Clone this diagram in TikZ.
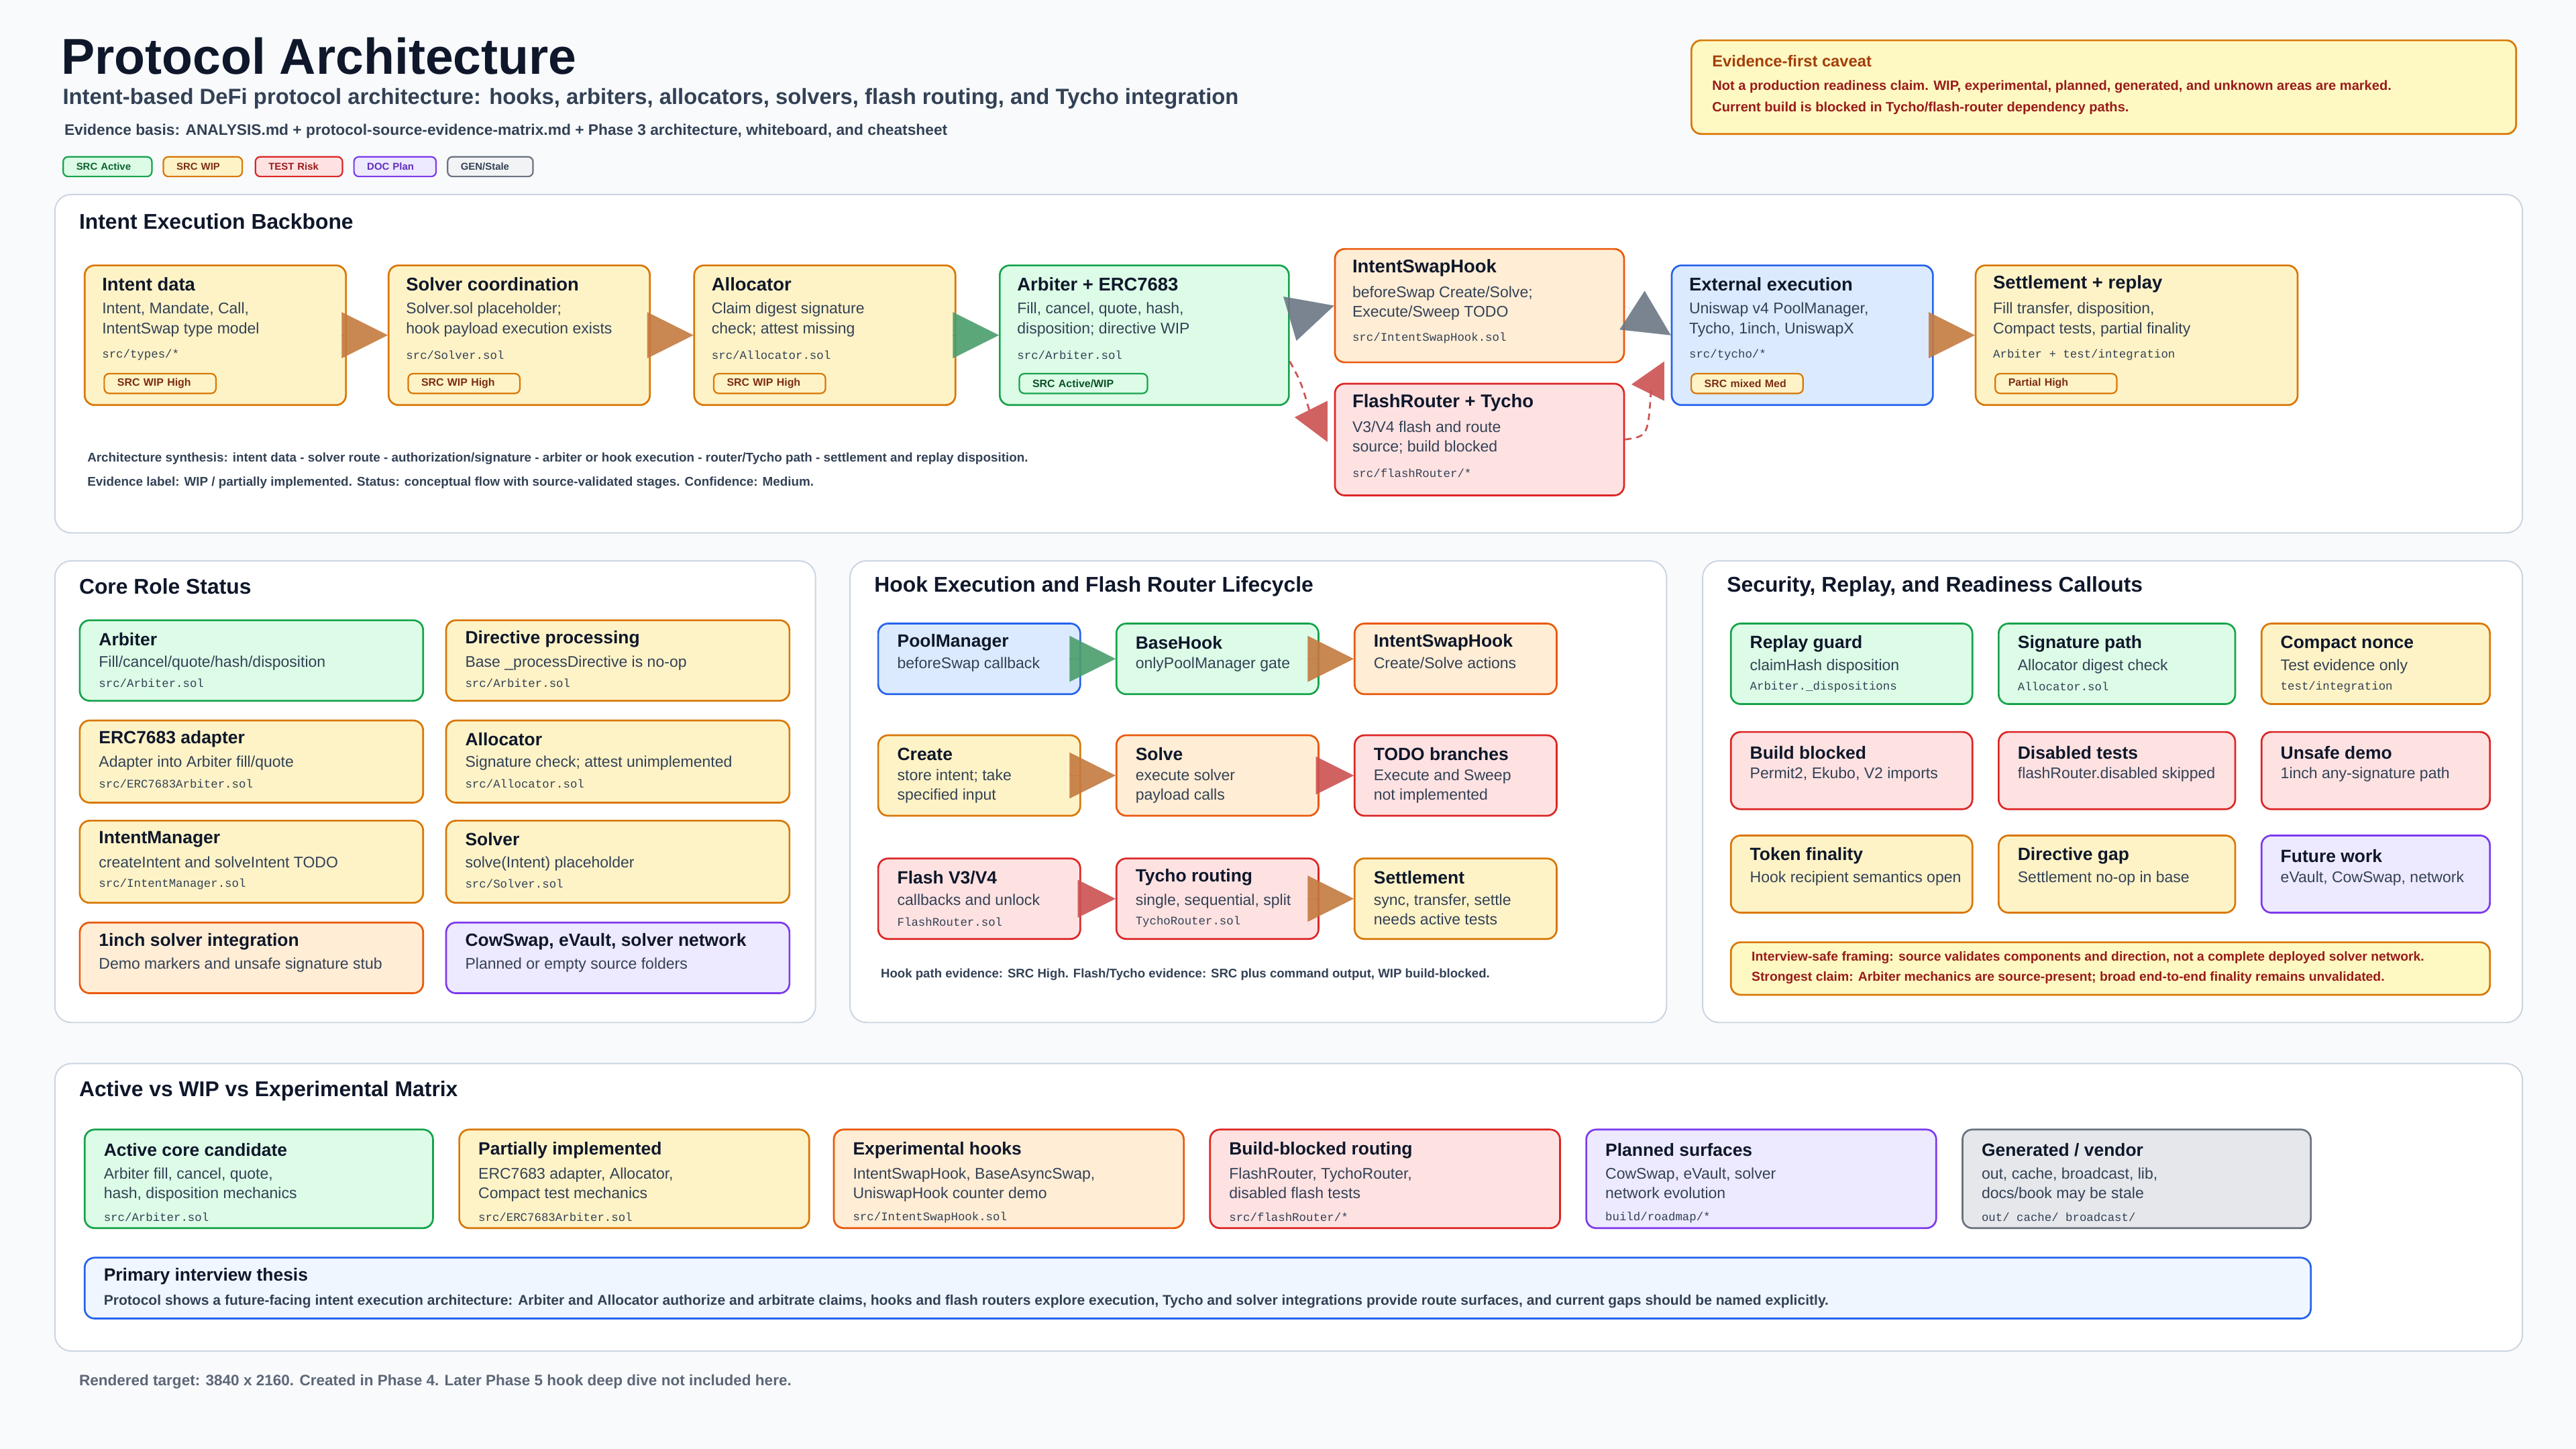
\documentclass[tikz,border=0pt]{standalone}
\usepackage{fontspec}
\setmainfont{Liberation Sans}
\setmonofont{Liberation Mono}
\usetikzlibrary{calc,arrows.meta}
\definecolor{bg}{HTML}{F8FAFC}
\definecolor{pbord}{HTML}{CBD5E1}
\definecolor{ink}{HTML}{0F172A}
\definecolor{txt}{HTML}{334155}
\definecolor{gfill}{HTML}{DCFCE7}\definecolor{gline}{HTML}{16A34A}
\definecolor{yfill}{HTML}{FEF3C7}\definecolor{yline}{HTML}{D97706}
\definecolor{ofill}{HTML}{FFEDD5}\definecolor{oline}{HTML}{EA580C}
\definecolor{rfill}{HTML}{FEE2E2}\definecolor{rline}{HTML}{DC2626}
\definecolor{bfill}{HTML}{DBEAFE}\definecolor{bline}{HTML}{2563EB}
\definecolor{pfill}{HTML}{EDE9FE}\definecolor{pline}{HTML}{7C3AED}
\definecolor{kfill}{HTML}{E5E7EB}\definecolor{kline}{HTML}{6B7280}
\definecolor{lfill}{HTML}{EFF6FF}
\definecolor{cfill}{HTML}{FEF9C3}
\definecolor{dred}{HTML}{991B1B}
\definecolor{brown}{HTML}{7C2D12}
\definecolor{aor}{HTML}{C47A3F}\definecolor{agr}{HTML}{4A9E6C}
\definecolor{agy}{HTML}{6B7785}\definecolor{ard}{HTML}{CD5252}
\tikzset{
 card/.style={draw, rounded corners=6pt, line width=1.1pt, inner sep=0pt},
 G/.style={fill=gfill,draw=gline}, Y/.style={fill=yfill,draw=yline},
 O/.style={fill=ofill,draw=oline}, R/.style={fill=rfill,draw=rline},
 B/.style={fill=bfill,draw=bline}, P/.style={fill=pfill,draw=pline},
 K/.style={fill=kfill,draw=kline},
 panel/.style={fill=white, draw=pbord, line width=0.8pt, rounded corners=10pt},
 ptitle/.style={anchor=west, inner sep=0pt, text=ink, font=\fontsize{13}{15}\selectfont\bfseries},
 ttl/.style={inner sep=0pt, text=ink, font=\fontsize{10.8}{12}\selectfont\bfseries},
 dsc/.style={inner sep=0pt, text=txt, align=left, font=\fontsize{9.4}{12}\selectfont},
 mno/.style={inner sep=0pt, text=txt, font=\fontsize{7.1}{8}\selectfont\ttfamily},
 chip/.style={draw, rounded corners=3pt, line width=0.9pt, inner sep=0pt, anchor=north west,
   minimum height=12pt, text=brown, font=\fontsize{6.3}{7}\selectfont\bfseries, align=left},
 note/.style={inner sep=0pt, anchor=west, text=txt, font=\fontsize{7.7}{9}\selectfont\bfseries},
 flow/.style={draw=#1, line width=0.01pt, opacity=0.9, -{Triangle[length=28pt,width=28pt,fill=#1]}},
 flows/.style={draw=#1, line width=0.01pt, opacity=0.9, -{Triangle[length=23pt,width=23pt,fill=#1]}},
 rdash/.style={draw=ard, line width=1.1pt, dash pattern=on 4pt off 3pt},
}
\def\tY{12}\def\dY{23}\def\mY{55}\def\px{11}
\newcommand\card[8]{%
 \node[card,#2,minimum width=#5pt,minimum height=#6pt,anchor=north west] (#1) at (#3,#4) {};
 \node[ttl,anchor=west] (#1-t) at ($(#1.north west)+(\px,\tY)$) {#7};
 \node[dsc,anchor=north west] (#1-d) at ($(#1.north west)+(\px,\dY)$) {#8};}
\newcommand\mono[2]{\node[mno,anchor=west] (#1-m) at ($(#1.north west)+(\px,\mY)$) {#2};}
\newcommand\bchip[3]{\node[chip,#2,minimum width=68pt,text width=60pt] (#1-c) at ($(#1.north west)+(12,66)$) {\hspace*{4pt}#3};}
\begin{document}
\begin{tikzpicture}[x=1pt,y=-1pt]
\path[fill=bg] (0,0) rectangle (1568,882);
% header
\node[inner sep=0pt,anchor=west,text=ink,font=\fontsize{30.7}{34}\selectfont\bfseries] (title) at (37,34) {Protocol Architecture};
\node[inner sep=0pt,anchor=west,text=txt,font=\fontsize{13.4}{15}\selectfont\bfseries] (sub) at (38,60) {Intent-based DeFi protocol architecture: hooks, arbiters, allocators, solvers, flash routing, and Tycho integration};
\node[inner sep=0pt,anchor=west,text=txt,font=\fontsize{9.3}{11}\selectfont\bfseries] (basis) at (39,80) {Evidence basis: ANALYSIS.md + protocol-source-evidence-matrix.md + Phase 3 architecture, whiteboard, and cheatsheet};
\tikzset{chip/.append style={font=\fontsize{6.1}{7}\selectfont\bfseries}}
\node[chip,G,text=gline!60!black,minimum width=54pt,text width=50pt] (lg1) at (38,95) {\hspace*{6pt}SRC Active};
\node[chip,Y,text=brown,minimum width=48pt,text width=44pt] (lg2) at (99,95) {\hspace*{6pt}SRC WIP};
\node[chip,R,text=rline!70!black,minimum width=53pt,text width=49pt] (lg3) at (155,95) {\hspace*{6pt}TEST Risk};
\node[chip,P,text=pline!80!black,minimum width=50pt,text width=46pt] (lg4) at (215,95) {\hspace*{6pt}DOC Plan};
\node[chip,fill=kfill!50,draw=kline,text=txt,minimum width=52pt,text width=48pt] (lg5) at (272,95) {\hspace*{6pt}GEN/Stale};
\tikzset{chip/.append style={font=\fontsize{6.5}{7}\selectfont\bfseries}}
% caveat
\node[card,fill=cfill,draw=yline,minimum width=502pt,minimum height=57pt,anchor=north west] (cav) at (1029,24) {};
\node[inner sep=0pt,anchor=west,text=oline!70!black,font=\fontsize{9.7}{11}\selectfont\bfseries] (cav-t) at (1042,37) {Evidence-first caveat};
\node[inner sep=0pt,anchor=west,text=dred,font=\fontsize{8.2}{10}\selectfont\bfseries] (cav-1) at (1042,53) {Not a production readiness claim. WIP, experimental, planned, generated, and unknown areas are marked.};
\node[inner sep=0pt,anchor=west,text=dred,font=\fontsize{8.2}{10}\selectfont\bfseries] (cav-2) at (1042,66) {Current build is blocked in Tycho/flash-router dependency paths.};
% panels
\node[panel,minimum width=1502pt,minimum height=206pt,anchor=north west] (p1) at (33,118) {};
\node[panel,minimum width=463pt,minimum height=281pt,anchor=north west] (p2) at (33,341) {};
\node[panel,minimum width=497pt,minimum height=281pt,anchor=north west] (p3) at (517,341) {};
\node[panel,minimum width=499pt,minimum height=281pt,anchor=north west] (p4) at (1036,341) {};
\node[panel,minimum width=1502pt,minimum height=175pt,anchor=north west] (p5) at (33,647) {};
\node[ptitle] (p1-t) at (48,135) {Intent Execution Backbone};
\node[ptitle] (p2-t) at (48,357) {Core Role Status};
\node[ptitle] (p3-t) at (532,357) {Hook Execution and Flash Router Lifecycle};
\node[ptitle] (p4-t) at (1051,357) {Security, Replay, and Readiness Callouts};
\node[ptitle] (p5-t) at (48,664) {Active vs WIP vs Experimental Matrix};
% backbone
\tikzset{ttl/.append style={font=\fontsize{11.2}{13}\selectfont\bfseries}}
\card{id}{Y}{51}{161}{159}{85}{Intent data}{Intent, Mandate, Call,\\IntentSwap type model}\mono{id}{src/types/*}
\card{sc}{Y}{236}{161}{159}{85}{Solver coordination}{Solver.sol placeholder;\\hook payload execution exists}\mono{sc}{src/Solver.sol}
\card{al}{Y}{422}{161}{159}{85}{Allocator}{Claim digest signature\\check; attest missing}\mono{al}{src/Allocator.sol}
\card{arb}{G}{608}{161}{176}{85}{Arbiter + ERC7683}{Fill, cancel, quote, hash,\\disposition; directive WIP}\mono{arb}{src/Arbiter.sol}
\card{ish}{O}{812}{151}{176}{69}{IntentSwapHook}{beforeSwap Create/Solve;\\Execute/Sweep TODO}\mono{ish}{src/IntentSwapHook.sol}
\card{fr}{R}{812}{233}{176}{68}{FlashRouter + Tycho}{V3/V4 flash and route\\source; build blocked}\mono{fr}{src/flashRouter/*}
\card{ext}{B}{1017}{161}{159}{85}{External execution}{Uniswap v4 PoolManager,\\Tycho, 1inch, UniswapX}\mono{ext}{src/tycho/*}
\card{st}{Y}{1202}{161}{196}{85}{Settlement + replay}{Fill transfer, disposition,\\Compact tests, partial finality}\mono{st}{Arbiter + test/integration}
\bchip{id}{Y}{SRC WIP High}
\bchip{sc}{Y}{SRC WIP High}
\bchip{al}{Y}{SRC WIP High}
\node[chip,G,text=gline!50!black,minimum width=78pt,text width=70pt] (arb-c) at ($(arb.north west)+(12,66)$) {\hspace*{4pt}SRC Active/WIP};
\bchip{ext}{Y}{SRC mixed Med}
\node[chip,Y,minimum width=74pt,text width=66pt] (st-c) at ($(st.north west)+(12,66)$) {\hspace*{4pt}Partial High};
\draw[flow=aor] (id.east) -- (sc.west);
\draw[flow=aor] (sc.east) -- (al.west);
\draw[flow=agr] (al.east) -- (arb.west);
\draw[flow=agy] ($(arb.north east)+(0,33)$) -- (ish.west);
\draw[flow=agy] (ish.east) -- (ext.west);
\draw[flow=aor] (ext.east) -- (st.west);
\draw[rdash] ($(arb.north east)+(0,59)$) .. controls ($(arb.north east)+(7,72)$) .. ($(fr.north west)+(-15,17)$);
\fill[ard,opacity=0.9] ($(fr.north west)+(-24,21)$) -- ($(fr.north west)+(-4,11)$) -- ($(fr.north west)+(-4,36)$) -- cycle;
\draw[rdash] (fr.east) .. controls ($(fr.east)+(14,-2)$) .. ($(ext.north west)+(-12,76)$);
\fill[ard,opacity=0.9] ($(ext.north west)+(-24,73)$) -- ($(ext.north west)+(-4,59)$) -- ($(ext.north west)+(-4,83)$) -- cycle;
\node[note] (n1) at (53,279) {Architecture synthesis: intent data - solver route - authorization/signature - arbiter or hook execution - router/Tycho path - settlement and replay disposition.};
\node[note] (n2) at (53,294) {Evidence label: WIP / partially implemented. Status: conceptual flow with source-validated stages. Confidence: Medium.};
% core role status
\tikzset{ttl/.append style={font=\fontsize{10.8}{12}\selectfont\bfseries}}
\def\tY{12}\def\dY{22}\def\mY{39}\def\px{12}
\card{c1}{G}{48}{377}{209}{49}{Arbiter}{Fill/cancel/quote/hash/disposition}\mono{c1}{src/Arbiter.sol}
\card{c2}{Y}{271}{377}{209}{49}{Directive processing}{Base \_processDirective is no-op}\mono{c2}{src/Arbiter.sol}
\card{c3}{Y}{48}{438}{209}{50}{ERC7683 adapter}{Adapter into Arbiter fill/quote}\mono{c3}{src/ERC7683Arbiter.sol}
\card{c4}{Y}{271}{438}{209}{50}{Allocator}{Signature check; attest unimplemented}\mono{c4}{src/Allocator.sol}
\card{c5}{Y}{48}{499}{209}{50}{IntentManager}{createIntent and solveIntent TODO}\mono{c5}{src/IntentManager.sol}
\card{c6}{Y}{271}{499}{209}{50}{Solver}{solve(Intent) placeholder}\mono{c6}{src/Solver.sol}
\card{c7}{O}{48}{561}{209}{43}{1inch solver integration}{Demo markers and unsafe signature stub}
\card{c8}{P}{271}{561}{209}{43}{CowSwap, eVault, solver network}{Planned or empty source folders}
% hook lifecycle
\def\tY{12}\def\dY{21}\def\mY{39}
\card{h1}{B}{534}{379}{123}{43}{PoolManager}{beforeSwap callback}
\card{h2}{G}{679}{379}{123}{43}{BaseHook}{onlyPoolManager gate}
\card{h3}{O}{824}{379}{123}{43}{IntentSwapHook}{Create/Solve actions}
\card{h4}{Y}{534}{447}{123}{49}{Create}{store intent; take\\specified input}
\card{h5}{O}{679}{447}{123}{49}{Solve}{execute solver\\payload calls}
\card{h6}{R}{824}{447}{123}{49}{TODO branches}{Execute and Sweep\\not implemented}
\def\dY{22}
\card{h7}{R}{534}{522}{123}{49}{Flash V3/V4}{callbacks and unlock}\mono{h7}{FlashRouter.sol}
\card{h8}{R}{679}{522}{123}{49}{Tycho routing}{single, sequential, split}\mono{h8}{TychoRouter.sol}
\card{h9}{Y}{824}{522}{123}{49}{Settlement}{sync, transfer, settle\\needs active tests}
\draw[flow=agr] (h1.east) -- (h2.west);
\draw[flow=aor] (h2.east) -- (h3.west);
\draw[flow=aor] (h4.east) -- (h5.west);
\draw[flows=ard] (h5.east) -- (h6.west);
\draw[flows=ard] (h7.east) -- (h8.west);
\draw[flow=aor] (h8.east) -- (h9.west);
\node[note,font=\fontsize{7.6}{9}\selectfont\bfseries] (n3) at (536,593) {Hook path evidence: SRC High. Flash/Tycho evidence: SRC plus command output, WIP build-blocked.};
% security
\def\tY{13}\def\dY{22}\def\mY{39}
\card{s1}{G}{1053}{379}{147}{49}{Replay guard}{claimHash disposition}\mono{s1}{Arbiter.\_dispositions}
\card{s2}{G}{1216}{379}{144}{49}{Signature path}{Allocator digest check}\mono{s2}{Allocator.sol}
\card{s3}{Y}{1376}{379}{139}{49}{Compact nonce}{Test evidence only}\mono{s3}{test/integration}
\card{s4}{R}{1053}{445}{147}{47}{Build blocked}{Permit2, Ekubo, V2 imports}
\card{s5}{R}{1216}{445}{144}{47}{Disabled tests}{flashRouter.disabled skipped}
\card{s6}{R}{1376}{445}{139}{47}{Unsafe demo}{1inch any-signature path}
\card{s7}{Y}{1053}{508}{147}{47}{Token finality}{Hook recipient semantics open}
\card{s8}{Y}{1216}{508}{144}{47}{Directive gap}{Settlement no-op in base}
\card{s9}{P}{1376}{508}{139}{47}{Future work}{eVault, CowSwap, network}
\node[card,fill=cfill,draw=yline,minimum width=462pt,minimum height=32pt,anchor=north west] (cl) at (1053,573) {};
\node[inner sep=0pt,anchor=west,text=dred,font=\fontsize{7.9}{9}\selectfont\bfseries] (cl-1) at (1066,583) {Interview-safe framing: source validates components and direction, not a complete deployed solver network.};
\node[inner sep=0pt,anchor=west,text=dred,font=\fontsize{7.9}{9}\selectfont\bfseries] (cl-2) at (1066,595) {Strongest claim: Arbiter mechanics are source-present; broad end-to-end finality remains unvalidated.};
% matrix
\def\tY{13}\def\dY{23.5}\def\mY{54}
\card{m1}{G}{51}{687}{212}{60}{Active core candidate}{Arbiter fill, cancel, quote,\\hash, disposition mechanics}\mono{m1}{src/Arbiter.sol}
\card{m2}{Y}{279}{687}{213}{60}{Partially implemented}{ERC7683 adapter, Allocator,\\Compact test mechanics}\mono{m2}{src/ERC7683Arbiter.sol}
\card{m3}{O}{507}{687}{213}{60}{Experimental hooks}{IntentSwapHook, BaseAsyncSwap,\\UniswapHook counter demo}\mono{m3}{src/IntentSwapHook.sol}
\card{m4}{R}{736}{687}{213}{60}{Build-blocked routing}{FlashRouter, TychoRouter,\\disabled flash tests}\mono{m4}{src/flashRouter/*}
\card{m5}{P}{965}{687}{213}{60}{Planned surfaces}{CowSwap, eVault, solver\\network evolution}\mono{m5}{build/roadmap/*}
\card{m6}{K}{1194}{687}{212}{60}{Generated / vendor}{out, cache, broadcast, lib,\\docs/book may be stale}\mono{m6}{out/ cache/ broadcast/}
\def\tY{12}\def\dY{23}
\card{th}{fill=lfill,draw=bline}{51}{765}{1355}{37}{Primary interview thesis}{\fontsize{8.6}{10}\selectfont\bfseries Protocol shows a future-facing intent execution architecture: Arbiter and Allocator authorize and arbitrate claims, hooks and flash routers explore execution, Tycho and solver integrations provide route surfaces, and current gaps should be named explicitly.}
\node[inner sep=0pt,anchor=west,text=txt!80,font=\fontsize{9.2}{11}\selectfont\bfseries] (foot) at (48,841) {Rendered target: 3840 x 2160. Created in Phase 4. Later Phase 5 hook deep dive not included here.};
\end{tikzpicture}
\end{document}
